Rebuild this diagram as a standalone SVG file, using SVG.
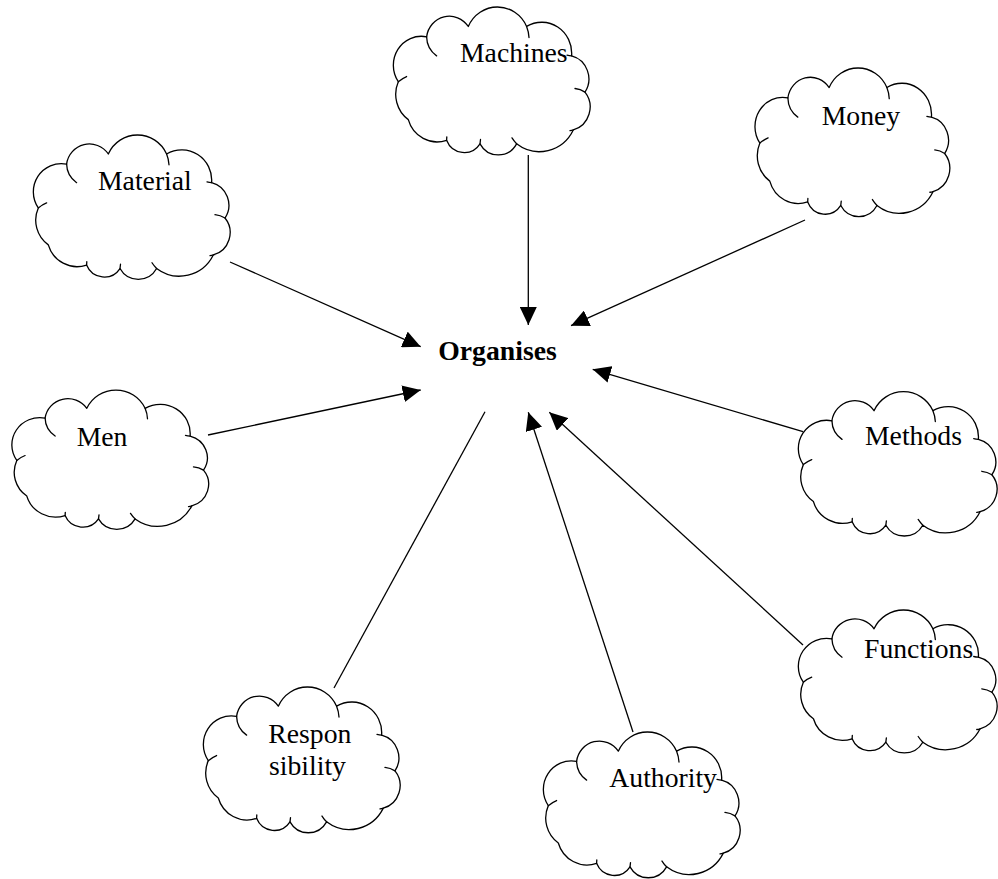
<svg xmlns="http://www.w3.org/2000/svg" width="998" height="879" viewBox="0 0 998 879">
  <defs>
    <style>
      .cloud-outline { fill: #fff; stroke: #000; stroke-width: 1.3; stroke-linejoin: round; }
      .cloud-curl { fill: none; stroke: #000; stroke-width: 1.3; stroke-linecap: round; }
      .lbl { font-family: "Liberation Serif", "Times New Roman", serif; font-size: 27.7px; fill: #000; }
      .bold { font-weight: bold; }
      #connectors line { stroke: #000; stroke-width: 1.3; }
    </style>
    <marker id="arrow" markerUnits="userSpaceOnUse" markerWidth="18" markerHeight="17" viewBox="0 0 18 17" refX="18" refY="8.5" orient="auto">
      <path d="M0,0 L18,8.5 L0,17 z" fill="#000"/>
    </marker>
    <!-- cloud outline of eleven bumps plus the little inner curls -->
    <g id="cloudShape">
      <path class="cloud-outline" d="M31.6,28.3 A23,23 0 0 1 73.3,18.3 A32,32 0 0 1 131.6,18.3 A30,30 0 0 1 176.6,46.7 A23,23 0 0 1 190,81.7 A23,23 0 0 1 178.3,118.3 A38,38 0 0 1 121.6,131.7 A21,21 0 0 1 85,131.7 A19,19 0 0 1 51.6,128.3 A30,30 0 0 1 13.3,108.3 A30,30 0 0 1 3.3,71.7 A28,28 0 0 1 31.6,28.3 Z"/>
      <path class="cloud-curl" d="M31.6,28.3 A23,23 0 0 0 41.6,46.7 M3.3,71.7 A30,30 0 0 1 11.6,66.7 M131.6,18.3 A32,32 0 0 1 134,29 M176.6,46.7 A30,30 0 0 1 172,46 M190,81.7 A23,23 0 0 0 180,78.3 M178.3,118.3 A23,23 0 0 1 175,119 M121.6,131.7 A38,38 0 0 1 117,126 M85,131.7 L85.5,127.5 M51.6,128.3 L51.8,125"/>
    </g>
  </defs>

  <rect width="998" height="879" fill="#fff"/>

  <g id="connectors">
    <line x1="528.3" y1="155" x2="528.3" y2="325" marker-end="url(#arrow)"/>
    <line x1="805" y1="220" x2="571" y2="325.7" marker-end="url(#arrow)"/>
    <line x1="230" y1="262" x2="420.7" y2="346.7" marker-end="url(#arrow)"/>
    <line x1="208" y1="435" x2="420.7" y2="390" marker-end="url(#arrow)"/>
    <line x1="803" y1="431.7" x2="592.7" y2="369.3" marker-end="url(#arrow)"/>
    <line x1="803" y1="645" x2="549.3" y2="412.3" marker-end="url(#arrow)"/>
    <line x1="633" y1="732" x2="528.3" y2="412.3" marker-end="url(#arrow)"/>
    <line x1="334" y1="688" x2="485" y2="411.7"/>
  </g>

  <g id="organises">
    <text class="lbl bold" x="438.3" y="360">Organises</text>
  </g>

  <g id="machines">
    <use href="#cloudShape" transform="translate(395,7.5) scale(1,1.035)"/>
    <text class="lbl" x="460" y="61.7">Machines</text>
  </g>

  <g id="material">
    <use href="#cloudShape" transform="translate(35,135.5) scale(1,1.01)"/>
    <text class="lbl" x="98" y="190">Material</text>
  </g>

  <g id="money">
    <use href="#cloudShape" transform="translate(756.6,68.5) scale(0.99,1.04)"/>
    <text class="lbl" x="821.7" y="125">Money</text>
  </g>

  <g id="men">
    <use href="#cloudShape" transform="translate(13.5,390.5) scale(1,0.975)"/>
    <text class="lbl" x="76.7" y="445.7">Men</text>
  </g>

  <g id="methods">
    <use href="#cloudShape" transform="translate(800,392.2) scale(1.01,1.01)"/>
    <text class="lbl" x="865" y="445">Methods</text>
  </g>

  <g id="functions">
    <use href="#cloudShape" transform="translate(800,610.5) scale(1.01,1)"/>
    <text class="lbl" x="864" y="658.3">Functions</text>
  </g>

  <g id="responsibility">
    <use href="#cloudShape" transform="translate(205,687.5) scale(1,1.02)"/>
    <text class="lbl" x="268.3" y="743.3">Respon</text>
    <text class="lbl" x="269" y="775">sibility</text>
  </g>

  <g id="authority">
    <use href="#cloudShape" transform="translate(545,732.5) scale(1,1.02)"/>
    <text class="lbl" x="609.3" y="786.7">Authority</text>
  </g>
</svg>
